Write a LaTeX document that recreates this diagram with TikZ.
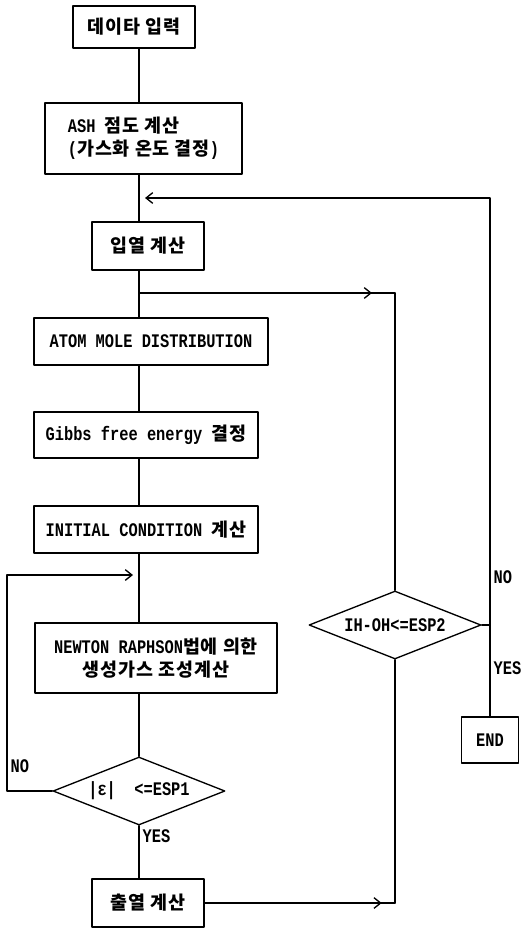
\documentclass[tikz,border=0pt]{standalone}
\usepackage{fontspec}
\setmainfont{Liberation Mono}[FakeStretch=0.8]
\newfontfamily\kr{Noto Sans CJK KR}[Scale=0.96,LetterSpace=5]
\usetikzlibrary{shapes.geometric,arrows.meta,decorations.markings}

\newcommand{\txt}{\fontsize{14.4}{17}\selectfont\bfseries}
\tikzset{
  proc/.style={draw,line width=1pt,inner sep=2pt,align=center,font=\txt},
  test/.style={draw,diamond,shape aspect=2.53,line width=1pt,inner sep=0pt,font=\txt},
  line/.style={line width=1pt},
  flow/.style={line width=1pt,-{Straight Barb[length=5pt,width=8pt]},shorten >=4.5pt},
  midbarb/.style={line width=1pt,postaction={decorate},
    decoration={markings,mark=at position #1 with {\arrow{Straight Barb[length=5pt,width=8pt]}}}},
  tag/.style={font=\txt,inner sep=1pt}
}

\begin{document}
\begin{tikzpicture}[x=0.75pt,y=-0.75pt,line cap=round,line join=round]
        \useasboundingbox (0,0) rectangle (521,930);
        \coordinate (m) at (139,0);

        % main column
        \node[proc,minimum width=91.5pt,minimum height=31.5pt] (in) at (134,27) {{\kr 데이타 입력}};
        \node[proc,align=left,minimum width=147.75pt,minimum height=53.25pt] (ash) at (143.5,138.5)
            {ASH {\kr 점도 계산}\\({\kr 가스화 온도 결정})};
        \node[proc,minimum width=84pt,minimum height=36pt] (heatin) at (148,246) {{\kr 입열 계산}};
        \node[proc,minimum width=175.5pt,minimum height=35.25pt] (atom) at (151,341.5) {ATOM MOLE DISTRIBUTION};
        \node[proc,minimum width=168pt,minimum height=34.5pt] (gibbs) at (146,435) {Gibbs free energy {\kr 결정}};
        \node[proc,minimum width=168pt,minimum height=35.25pt] (init) at (146,529.5) {INITIAL CONDITION {\kr 계산}};
        \node[proc,minimum width=181.5pt,minimum height=52.5pt] (newton) at (156,658)
            {NEWTON RAPHSON{\kr 법에 의한}\\{\kr 생성가스 조성계산}};
        \node[test,minimum width=129pt,minimum height=51pt] (esp1) at (139,791) {|ε|~~<=ESP1};
        \node[proc,minimum width=84pt,minimum height=36pt] (heatout) at (148,903) {{\kr 출열 계산}};

        % right side
        \node[test,minimum width=129pt,minimum height=51pt] (esp2) at (395,625) {IH-OH<=ESP2};
        \node[proc,minimum width=42.75pt,minimum height=34.5pt] (end) at (490,740) {END};

        \coordinate (topr) at (490,198);
        \coordinate (topm) at (139,198);
        \coordinate (br) at (139,293);
        \coordinate (brr) at (395,293);
        \coordinate (lp) at (7,575);
        \coordinate (lpm) at (139,575);
        \coordinate (bot) at (395,903);

        \draw[line] (in.south -| m) -- (ash.north -| m);
        \draw[line] (ash.south -| m) -- (heatin.north -| m);
        \draw[line] (heatin.south -| m) -- (atom.north -| m);
        \draw[line] (atom.south -| m) -- (gibbs.north -| m);
        \draw[line] (gibbs.south -| m) -- (init.north -| m);
        \draw[line] (init.south -| m) -- (newton.north -| m);
        \draw[line] (newton.south -| m) -- (esp1.north);
        \draw[line] (esp1.south) -- (heatout.north -| m);

        % loops
        \draw[flow] (esp1.west) -| (lp) -- (lpm);
        \draw[midbarb=0.91] (br) -- (brr);
        \draw[line] (brr) -- (esp2.north);
        \draw[midbarb=0.93] (heatout.east) -- (bot);
        \draw[line] (bot) -- (esp2.south);
        \draw[flow] (esp2.east) -| (topr) -- (topm);
        \draw[line] (esp2.east -| end) -- (end.north);

        \node[tag,anchor=west] at (9,766) {NO};
        \node[tag,anchor=west] at (141,836) {YES};
        \node[tag,anchor=west] at (492,577) {NO};
        \node[tag,anchor=west] at (492,668) {YES};
    \end{tikzpicture}
\end{document}
